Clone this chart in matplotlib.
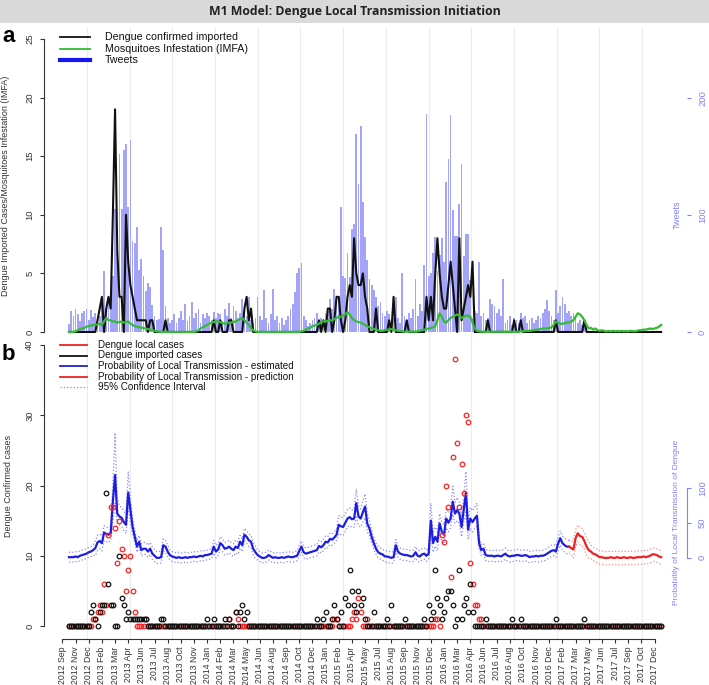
import matplotlib
matplotlib.use("Agg")
import matplotlib.pyplot as plt
import matplotlib.transforms as mtrans
from matplotlib.lines import Line2D
from matplotlib.patches import Rectangle
import numpy as np

W, H = 709, 685
N_WEEKS = 271

tick_labels = ["2012 Sep", "2012 Nov", "2012 Dec", "2013 Feb", "2013 Mar", "2013 Apr",
               "2013 Jun", "2013 Jul", "2013 Aug", "2013 Oct", "2013 Nov", "2014 Jan",
               "2014 Feb", "2014 Mar", "2014 May", "2014 Jun", "2014 Aug", "2014 Sep",
               "2014 Oct", "2014 Dec", "2015 Jan", "2015 Feb", "2015 Apr", "2015 May",
               "2015 Jul", "2015 Aug", "2015 Sep", "2015 Nov", "2015 Dec", "2016 Jan",
               "2016 Mar", "2016 Apr", "2016 Jun", "2016 Jul", "2016 Aug", "2016 Oct",
               "2016 Nov", "2016 Dec", "2017 Feb", "2017 Mar", "2017 May", "2017 Jun",
               "2017 Jul", "2017 Sep", "2017 Oct", "2017 Dec"]

# weekly tweets (bars, panel a)
tweets = ([7, 18, 14, 20, 15, 9, 16, 18, 20, 10, 19, 13, 16, 9, 14, 22, 52, 20, 28, 35,
           48, 105, 70, 152, 105, 155, 160, 107, 164, 78, 76, 90, 53, 62, 48, 35, 42, 38, 23, 14,
           10, 11, 90, 70, 22, 12, 8]
          + [10, 15, 8, 12, 18, 10, 24, 9, 14, 26, 12, 16, 20, 8, 15, 12, 16, 14, 10, 17,
             12, 16, 15, 9, 20, 14, 25, 12, 22, 18, 12, 16, 28, 20, 14, 30, 10, 8, 12, 30,
             14, 10, 36]
          + [12, 8, 15, 37, 10, 14, 8, 12, 6, 10, 14, 20, 24, 34, 50, 55, 59, 14, 10, 5,
             8, 10, 12, 16, 8, 12, 10, 16, 18, 28, 20, 37]
          + [28, 30, 107, 48, 46, 67, 47, 88, 92, 169, 126, 176, 111, 81, 61, 45, 40, 36, 30, 22,
             26, 16, 14, 18, 15, 8, 12, 30, 12, 8, 50, 14, 10, 16, 12, 20, 45, 14, 24, 18,
             57, 186, 48, 50, 67, 81, 52, 66, 80, 60, 128, 148, 185, 104, 82, 82, 109, 143, 65, 84,
             84, 44]
          + [12, 18, 16, 60, 14, 16, 10, 12, 28, 24, 22, 16, 20, 14, 45, 8, 10, 14, 6, 12,
             10, 8, 16, 12, 14, 8, 10, 12, 8, 10, 14, 12, 16, 20, 27, 18, 14, 10, 36, 16,
             22, 30, 24, 16, 18, 14, 16, 12, 8, 10, 6, 8]
          + [0] * 35)

# mosquito infestation index (green line, panel a)
imfa = [0, 0, 0, 0.05, 0.15, 0.25, 0.3, 0.35, 0.45, 0.5,
        0.55, 0.6, 0.6, 0.65, 0.7, 0.6, 0.9, 1.2, 1.0, 1.0,
        0.9, 0.9, 0.8, 0.85, 0.9, 0.8, 0.85, 0.9, 0.7, 0.6,
        0.5, 0.45, 0.4, 0.38, 0.33, 0.3, 0.25, 0.2, 0.15, 0.1,
        0.05, 0.02, 0, 0, 0, 0, 0, 0, 0, 0,
        0, 0, 0, 0, 0, 0, 0, 0, 0.05, 0.15,
        0.3, 0.4, 0.5, 0.6, 0.7, 0.8, 0.85, 0.9, 0.9, 0.85,
        0.75, 0.7, 0.75, 0.8, 0.8, 0.85, 0.9, 1.0, 1.1, 1.2,
        1.0, 0.8, 0.6, 0.3, 0.15, 0.05, 0, 0, 0, 0,
        0, 0, 0, 0, 0, 0, 0, 0, 0, 0,
        0, 0, 0, 0, 0, 0, 0.05, 0.1, 0.2, 0.3,
        0.35, 0.5, 0.55, 0.6, 0.7, 0.85, 0.9, 0.9, 0.95, 1.0,
        1.0, 1.1, 1.2, 1.3, 1.3, 1.4, 1.5, 1.7, 1.5, 1.2,
        1.0, 0.9, 0.85, 0.8, 0.7, 0.6, 0.5, 0.4, 0.3, 0.25,
        0.2, 0.15, 0.1, 0.1, 0.15, 0.2, 0.2, 0.25, 0.2, 0.15,
        0.1, 0.08, 0.05, 0.03, 0.03, 0.03, 0.03, 0.03, 0.03, 0.05,
        0.1, 0.15, 0.2, 0.25, 0.3, 0.35, 0.4, 0.5, 1.0, 1.6,
        1.3, 0.9, 0.8, 1.0, 1.2, 1.3, 1.4, 1.5, 1.4, 1.2,
        1.3, 1.4, 1.4, 1.3, 0.8, 0.3, 0.1, 0.05, 0.02, 0.02,
        0.02, 0.02, 0.02, 0.02, 0.02, 0.02, 0.02, 0.02, 0.02, 0.02,
        0.02, 0.02, 0.02, 0.02, 0.02, 0.02, 0.05, 0.05, 0.08, 0.1,
        0.1, 0.12, 0.15, 0.2, 0.2, 0.25, 0.3, 0.3, 0.3, 0.35,
        0.4, 0.6, 0.9, 0.8, 0.7, 0.7, 0.75, 0.8, 0.8, 0.9,
        1.0, 1.3, 1.6, 1.5, 1.3, 1.0, 0.6, 0.3, 0.35, 0.2,
        0.3, 0.15, 0.1, 0.15, 0.1, 0.05, 0.08, 0.05, 0.1, 0.05,
        0.08, 0.05, 0.1, 0.05, 0.08, 0.05, 0.1, 0.08, 0.05, 0.1,
        0.15, 0.15, 0.2, 0.2, 0.25, 0.3, 0.25, 0.3, 0.35, 0.45,
        0.6]

# imported cases, panel a line (week: count, other weeks 0)
imported_a_weeks = {13: 1, 14: 2, 15: 3, 17: 2, 18: 3, 19: 2, 20: 10, 21: 19, 22: 7, 23: 3,
                    24: 3, 26: 10, 27: 6, 28: 4, 29: 3, 30: 2, 31: 1, 32: 1, 33: 1, 34: 1,
                    35: 1, 37: 1, 38: 1, 44: 1, 66: 1, 69: 1, 73: 1, 74: 1, 80: 2, 81: 3,
                    82: 1, 83: 2, 114: 1, 116: 1, 118: 2, 119: 2, 121: 1, 122: 3, 123: 3, 124: 1,
                    126: 1, 127: 3, 128: 4, 129: 3, 130: 8, 131: 5, 132: 4, 133: 4, 134: 5, 135: 3,
                    136: 2, 140: 2, 146: 1, 148: 3, 154: 1, 163: 3, 164: 1, 165: 3, 166: 1, 167: 5,
                    168: 8, 169: 5, 170: 3, 171: 2, 172: 2, 173: 4, 174: 6, 175: 4, 176: 2, 178: 8,
                    179: 1, 180: 2, 181: 3, 182: 4, 183: 3, 184: 6, 191: 1, 203: 1, 206: 1, 222: 1,
                    235: 1}

# imported cases, panel b points
imported_b_weeks = {10: 2, 11: 3, 12: 1, 14: 2, 15: 3, 16: 3, 17: 19, 18: 6, 19: 3, 20: 3,
                    23: 10, 24: 4, 25: 3, 26: 1, 27: 2, 28: 1, 29: 1, 30: 1, 31: 1, 32: 1,
                    33: 1, 34: 1, 35: 1, 42: 1, 43: 1, 63: 1, 66: 1, 71: 1, 73: 1, 76: 2,
                    78: 2, 79: 3, 80: 1, 81: 2, 113: 1, 116: 1, 117: 2, 120: 1, 121: 3, 122: 1,
                    124: 2, 126: 4, 127: 3, 128: 8, 129: 5, 130: 3, 131: 2, 132: 5, 133: 3, 134: 4,
                    135: 1, 139: 2, 145: 1, 147: 3, 153: 1, 162: 1, 164: 3, 165: 1, 166: 2, 167: 8,
                    168: 4, 169: 3, 170: 1, 171: 2, 172: 4, 173: 5, 174: 5, 175: 3, 177: 1, 178: 8,
                    179: 1, 180: 3, 181: 4, 182: 2, 183: 6, 184: 2, 190: 1, 202: 1, 206: 1, 222: 1,
                    235: 1}

# local cases, panel b points
local_weeks = {11: 1, 12: 1, 13: 2, 14: 3, 15: 2, 16: 6, 17: 3, 18: 13, 19: 17, 20: 17,
               21: 14, 22: 9, 23: 15, 24: 11, 25: 10, 26: 5, 27: 8, 28: 10, 29: 5, 30: 2,
               35: 1, 73: 1, 76: 2, 77: 1, 121: 1, 122: 1, 129: 1, 130: 2, 131: 1, 132: 4,
               133: 2, 136: 1, 167: 1, 168: 1, 170: 13, 171: 12, 172: 20, 173: 17, 174: 7, 175: 24,
               176: 38, 177: 26, 178: 17, 179: 23, 180: 19, 181: 30, 182: 29, 183: 9, 184: 6, 185: 3,
               186: 3, 187: 1, 188: 1}

# probability of local transmission (%), estimated weeks 0-228
prob_est = [1, 1, 1, 2, 1, 3, 4, 5, 6, 8,
            9, 11, 14, 22, 24, 21, 36, 34, 33, 35,
            80, 118, 63, 59, 57, 51, 47, 93, 68, 44,
            30, 16, 23, 11, 13, 13, 9, 13, 6, 3,
            0, 0, 1, 18, 16, 9, 4, 2, 1, 0,
            1, 0, 0, 1, 0, 1, 1, 2, 1, 2,
            3, 2, 4, 4, 5, 6, 16, 9, 12, 21,
            18, 13, 14, 16, 13, 11, 16, 14, 23, 18,
            33, 30, 25, 23, 13, 8, 4, 2, 0, 0,
            1, 4, 2, 0, 1, 0, 0, 1, 0, 1,
            2, 1, 1, 2, 3, 10, 16, 8, 6, 7,
            8, 9, 10, 11, 17, 15, 18, 23, 22, 27,
            26, 29, 33, 47, 45, 44, 50, 56, 58, 55,
            56, 78, 59, 56, 65, 73, 49, 42, 30, 21,
            13, 8, 6, 5, 2, 2, 1, 0, 1, 18,
            9, 6, 5, 4, 4, 3, 2, 3, 8, 3,
            2, 5, 6, 3, 6, 53, 21, 30, 23, 49,
            37, 33, 56, 50, 56, 80, 63, 68, 63, 44,
            68, 93, 40, 56, 51, 56, 60, 21, 11, 13,
            4, 3, 3, 3, 2, 3, 3, 2, 4, 6,
            3, 2, 3, 3, 4, 4, 3, 3, 4, 3,
            1, 2, 2, 3, 2, 3, 3, 4, 6, 8,
            10, 11, 9, 20, 28, 21, 18, 16, 16]

# predicted probability (%), weeks 228-270
prob_pred = [16, 14, 12, 28, 35, 31, 30, 24, 16, 11,
             9, 6, 5, 3, 1, 1, 0, 0, 0, 1,
             0, 0, 1, 0, 0, 1, 0, 0, 1, 0,
             0, 1, 1, 1, 2, 1, 2, 3, 5, 5,
             4, 2, 1]

# 95% CI distance above / below the curve (%), all weeks
ci_up = ([7] * 12 + [10] * 8 + [25, 60, 22, 15, 15, 15, 15, 30, 18, 12] + [9] * 16 + [7] * 20
         + [9] * 20 + [7] * 19 + [8] * 18 + [13] * 8 + [20, 15, 14, 16, 18, 14, 12, 10]
         + [8] * 26 + [25] + [14] * 9 + [22, 16, 18, 16, 16, 20, 30, 16, 16, 16, 16, 18]
         + [8] * 36 + [10] * 5 + [9] * 2 + [12] * 8 + [9] * 33)
ci_lo = ([7] * 12 + [11] * 8 + [30, 40, 14, 12, 12, 12, 12, 22, 16, 11] + [8] * 16 + [7] * 20
         + [9] * 20 + [7] * 19 + [8] * 18 + [12] * 8 + [18, 13, 12, 14, 16, 12, 10, 9]
         + [8] * 26 + [20] + [13] * 9 + [18, 14, 15, 14, 14, 18, 28, 14, 14, 14, 14, 15]
         + [8] * 36 + [10] * 5 + [9] * 2 + [12] * 8 + [10] * 33)


def weekly(counts):
    arr = np.zeros(N_WEEKS)
    for wk, v in counts.items():
        arr[wk] = v
    return arr


weeks = np.arange(N_WEEKS)
imported_a = weekly(imported_a_weeks)
imported_b = weekly(imported_b_weeks)
local = weekly(local_weeks)
est = np.array(prob_est, dtype=float)
pred = np.array(prob_pred, dtype=float)
up = np.array(ci_up, dtype=float)
lo = np.array(ci_lo, dtype=float)
est_weeks = weeks[:len(est)]
pred_weeks = weeks[len(est) - 1:]

plt.rcParams['font.family'] = ['Liberation Sans', 'DejaVu Sans']

fig = plt.figure(figsize=(W / 100, H / 100), dpi=100)


def px_rect(left, top, right, bottom):
    return [left / W, 1 - bottom / H, (right - left) / W, (bottom - top) / H]


def fx(x):
    return x / W


def fy(y):
    return 1 - y / H


AX_COL = '#333333'
TW_COL = '#8080ff'
X_LIM = (-11.4, 281.8)
grid_weeks = 8.2 + 19.47 * np.arange(14)

# title bar
fig.add_artist(Rectangle((0, fy(23)), 1, 23 / H, transform=fig.transFigure,
                         facecolor='#d9d9d9', edgecolor='none'))
fig.text(0.5, fy(12), 'M1 Model: Dengue Local Transmission Initiation', ha='center',
         va='center', fontsize=8.8, fontweight='bold', family='Open Sans', color='#222222')
fig.text(fx(2), fy(36), 'a', fontsize=16, fontweight='bold', va='center', ha='left')
fig.text(fx(2), fy(355), 'b', fontsize=16, fontweight='bold', va='center', ha='left')

# ---------- panel a ----------
ax_a = fig.add_axes(px_rect(44, 27.3, 687, 343.7))
ax_t = ax_a.twinx()
ax_a.set_zorder(ax_t.get_zorder() + 1)
ax_a.patch.set_visible(False)

for g in grid_weeks:
    ax_t.axvline(g, color='#ececec', lw=0.8, zorder=0)
ax_t.bar(weeks, tweets, width=0.8, color='#a3a3f7', linewidth=0, zorder=1)
ax_a.plot(weeks, imported_a, color='#111111', lw=1.5)
ax_a.plot(weeks, imfa, color='#33bb33', lw=1.6)

ax_a.set_xlim(*X_LIM)
ax_a.set_ylim(-1, 26)
ax_t.set_ylim(-10, 260)
ax_a.set_xticks([])
for s in ['top', 'right', 'bottom']:
    ax_a.spines[s].set_visible(False)
    ax_t.spines[s].set_visible(False)
ax_t.spines['left'].set_visible(False)
ax_a.spines['left'].set_bounds(0, 25)
ax_a.spines['left'].set_color(AX_COL)
ax_a.spines['left'].set_linewidth(0.8)
ax_a.set_yticks([0, 5, 10, 15, 20, 25])
ax_a.tick_params(axis='y', colors=AX_COL, labelsize=6.8, length=3, width=0.8, pad=4,
                 labelrotation=90)
for lab in ax_a.get_yticklabels():
    lab.set_va('center')
ax_a.set_ylabel('Dengue Imported Cases/Mosquitoes Infestation (IMFA)', fontsize=6.5,
                color=AX_COL)
ax_a.yaxis.set_label_coords(-34 / 643, 0.5)

ax_t.spines['right'].set_bounds(0, 200)
ax_t.spines['right'].set_color(TW_COL)
ax_t.spines['right'].set_linewidth(0.8)
ax_t.set_yticks([0, 100, 200])
ax_t.tick_params(axis='y', colors=TW_COL, labelsize=6.8, length=3, width=0.8, pad=5,
                 labelrotation=90)
for lab in ax_t.get_yticklabels():
    lab.set_va('center')
tr_t = mtrans.blended_transform_factory(ax_t.transAxes, ax_t.transData)
ax_t.text((677 - 44) / 643, 100, 'Tweets', transform=tr_t, rotation=90, ha='center',
          va='center', color=TW_COL, fontsize=6.5)

# ---------- panel b ----------
ax_b = fig.add_axes(px_rect(44, 333.8, 687, 639))
ax_p = ax_b.twinx()
ax_b.set_zorder(ax_p.get_zorder() + 1)
ax_b.patch.set_visible(False)

for g in grid_weeks:
    ax_p.axvline(g, color='#ececec', lw=0.8, zorder=0)
ax_p.plot(est_weeks, est + up[:len(est)], ':', color='#8a8aff', lw=0.9)
ax_p.plot(est_weeks, est - lo[:len(est)], ':', color='#8a8aff', lw=0.9)
ax_p.plot(pred_weeks, pred + up[len(est) - 1:], ':', color='#ff8a8a', lw=0.9)
ax_p.plot(pred_weeks, pred - lo[len(est) - 1:], ':', color='#ff8a8a', lw=0.9)
ax_p.plot(est_weeks, est, color='#1e1ee0', lw=1.6)
ax_p.plot(pred_weeks, pred, color='#ee2222', lw=1.6)

ax_b.plot(weeks, local, 'o', mfc='none', mec='#ff2020', ms=3.3, mew=0.9, ls='none')
ax_b.plot(weeks, imported_b, 'o', mfc='none', mec='#111111', ms=3.3, mew=0.9, ls='none')

ax_b.set_xlim(*X_LIM)
ax_b.set_ylim(-1.85, 41.6)
ax_p.set_ylim((-1.85 - 9.7) * 10, (41.6 - 9.7) * 10)
for s in ['top', 'right']:
    ax_b.spines[s].set_visible(False)
for s in ['top', 'left', 'bottom']:
    ax_p.spines[s].set_visible(False)
ax_b.spines['left'].set_bounds(0, 40)
ax_b.spines['bottom'].set_bounds(-3, 267)
for s in ['left', 'bottom']:
    ax_b.spines[s].set_color(AX_COL)
    ax_b.spines[s].set_linewidth(0.8)
ax_b.set_yticks([0, 10, 20, 30, 40])
ax_b.tick_params(axis='y', colors=AX_COL, labelsize=6.8, length=3, width=0.8, pad=4,
                 labelrotation=90)
for lab in ax_b.get_yticklabels():
    lab.set_va('center')
ax_b.set_xticks(np.arange(-3, 268, 6))
ax_b.set_xticklabels(tick_labels, rotation=90, fontsize=6.3, color=AX_COL)
ax_b.tick_params(axis='x', colors=AX_COL, length=3, width=0.8, pad=2.5)
ax_b.set_ylabel('Dengue Confirmed cases', fontsize=6.5, color=AX_COL)
ax_b.yaxis.set_label_coords(-31 / 643, 0.5)

ax_p.spines['right'].set_bounds(0, 100)
ax_p.spines['right'].set_color(TW_COL)
ax_p.spines['right'].set_linewidth(0.8)
ax_p.set_yticks([0, 50, 100])
ax_p.tick_params(axis='y', colors=TW_COL, labelsize=6.8, length=3, width=0.8, pad=5,
                 labelrotation=90)
for lab in ax_p.get_yticklabels():
    lab.set_va('center')
tr_p = mtrans.blended_transform_factory(ax_p.transAxes, ax_p.transData)
ax_p.text((677 - 44) / 643, 50, 'Probability of Local Transmission of Dengue', transform=tr_p,
          rotation=90, ha='center', va='center', color=TW_COL, fontsize=6)


# ---------- legends ----------
def legend_row(x0, x1, xt, y, label, size, **style):
    fig.add_artist(Line2D([fx(x0), fx(x1)], [fy(y), fy(y)], transform=fig.transFigure, **style))
    fig.text(fx(xt), fy(y), label, ha='left', va='center', fontsize=size, color='#111111')


legend_row(60, 90, 105, 37, 'Dengue confirmed imported', 7.7, color='#111111', lw=1.3)
legend_row(60, 90, 105, 48.5, 'Mosquitoes Infestation (IMFA)', 7.7, color='#33bb33', lw=1.3)
legend_row(60, 90, 105, 60, 'Tweets', 7.7, color='#1515ee', lw=3)

legend_row(60, 87, 98, 345, 'Dengue local cases', 7.1, color='#ee2222', lw=1.3)
legend_row(60, 87, 98, 355.5, 'Dengue imported cases', 7.1, color='#111111', lw=1.3)
legend_row(60, 87, 98, 366, 'Probability of Local Transmission - estimated', 7.1,
           color='#2020dd', lw=1.3)
legend_row(60, 87, 98, 376.5, 'Probability of Local Transmission - prediction', 7.1,
           color='#ee2222', lw=1.3)
legend_row(60, 87, 98, 387, '95% Confidence Interval', 7.1, color='#8a8aff', lw=0.9, ls=':')

fig.savefig('out.png', dpi=100)
